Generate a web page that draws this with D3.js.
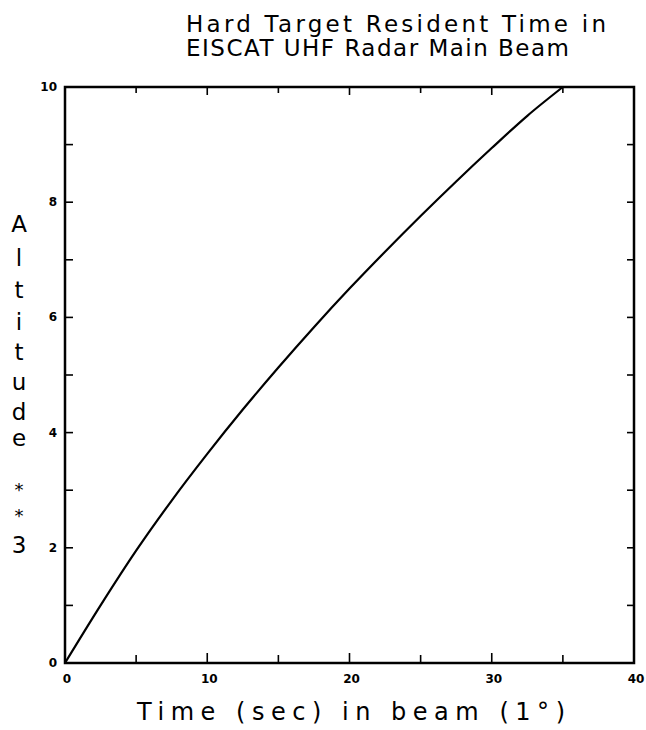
<!DOCTYPE html>
<html>
<head>
<meta charset="utf-8">
<script src="https://cdn.jsdelivr.net/npm/d3@7"></script>
<style>
  body { margin: 0; background: #fff; }
  svg { display: block; }
  text { fill: #000; }
</style>
</head>
<body>
<div id="chart-area"></div>
<script>
// data
var times     = [0, 2.5, 5, 7.5, 10, 12.5, 15, 17.5, 20, 22.5, 25, 27.5, 30, 32.5, 35];
var altitudes = [0, 1.0, 1.95, 2.82, 3.63, 4.40, 5.13, 5.83, 6.50, 7.14, 7.76, 8.36, 8.94, 9.50, 10.0];

var xTicksMajor = [0, 10, 20, 30, 40];
var xTicksMinor = [5, 15, 25, 35];
var yTicksMajor = [0, 2, 4, 6, 8, 10];
var yTicksMinor = [1, 3, 5, 7, 9];

var titleLines = ["Hard Target Resident Time in", "EISCAT UHF Radar Main Beam"];
var yLabelChars = ["A", "l", "t", "i", "t", "u", "d", "e", "*", "*", "3"];
var xLabel = "Time (sec) in beam (1\u00B0)";

var W = 646, H = 730;
// plot box (pixels)
var box = {left: 65, right: 634, top: 87, bottom: 663};

var svg = d3.select('#chart-area')
    .append('svg')
        .attr('width', W)
        .attr('height', H);

var x = d3.scaleLinear().domain([0, 40]).range([box.left, box.right]);
var y = d3.scaleLinear().domain([0, 10]).range([box.bottom, box.top]);

// frame
svg.append('rect')
    .attr('x', box.left)
    .attr('y', box.top)
    .attr('width', box.right - box.left)
    .attr('height', box.bottom - box.top)
    .attr('fill', 'none')
    .attr('stroke', '#000')
    .attr('stroke-width', 2.5);

// ticks pointing inward on all four sides
function inwardTicks(vals, len) {
    svg.selectAll(null).data(vals).enter().append('line')
        .attr('x1', d => x(d)).attr('x2', d => x(d))
        .attr('y1', box.bottom).attr('y2', box.bottom - len)
        .attr('stroke', '#000').attr('stroke-width', 1.6);
    svg.selectAll(null).data(vals).enter().append('line')
        .attr('x1', d => x(d)).attr('x2', d => x(d))
        .attr('y1', box.top).attr('y2', box.top + len - 2)
        .attr('stroke', '#000').attr('stroke-width', 1.6);
}
inwardTicks(xTicksMajor.slice(1, -1), 10);
inwardTicks(xTicksMinor, 8);

var yAll = yTicksMajor.slice(1, -1).concat(yTicksMinor);
svg.selectAll(null).data(yAll).enter().append('line')
    .attr('x1', box.left).attr('x2', box.left + 8)
    .attr('y1', d => y(d)).attr('y2', d => y(d))
    .attr('stroke', '#000').attr('stroke-width', 1.6);
svg.selectAll(null).data(yAll).enter().append('line')
    .attr('x1', box.right).attr('x2', box.right - 7)
    .attr('y1', d => y(d)).attr('y2', d => y(d))
    .attr('stroke', '#000').attr('stroke-width', 1.6);

// tick labels
svg.selectAll(null).data(xTicksMajor).enter().append('text')
    .attr('x', d => x(d) + 2)
    .attr('y', box.bottom + 20)
    .attr('text-anchor', 'middle')
    .attr('font-family', 'DejaVu Sans')
    .attr('font-weight', 'bold')
    .attr('font-size', '12px')
    .text(d => d);

svg.selectAll(null).data(yTicksMajor).enter().append('text')
    .attr('x', box.left - 8)
    .attr('y', d => y(d) + 4)
    .attr('text-anchor', 'end')
    .attr('font-family', 'DejaVu Sans')
    .attr('font-weight', 'bold')
    .attr('font-size', '12px')
    .text(d => d);

// curve
var pts = times.map((t, i) => [t, altitudes[i]]);
var line = d3.line()
    .x(d => x(d[0]))
    .y(d => y(d[1]))
    .curve(d3.curveMonotoneX);

svg.append('path')
    .datum(pts)
    .attr('d', line)
    .attr('fill', 'none')
    .attr('stroke', '#000')
    .attr('stroke-width', 2.2);

// title
svg.selectAll(null).data(titleLines).enter().append('text')
    .attr('x', 186)
    .attr('y', (d, i) => 32 + i * 24)
    .attr('font-family', 'DejaVu Sans')
    .attr('font-size', '23px')
    .attr('textLength', (d, i) => i == 0 ? 420 : 383)
    .attr('lengthAdjust', 'spacing')
    .text(d => d);

// vertical y label, one char per row
var yLabelBase = [232, 266, 298, 330, 360, 390, 420, 446, 496, 522, 553];
svg.selectAll(null).data(yLabelChars).enter().append('text')
    .attr('x', 19)
    .attr('y', (d, i) => yLabelBase[i])
    .attr('text-anchor', 'middle')
    .attr('font-family', 'DejaVu Sans')
    .attr('font-size', (d) => d == '*' ? '18px' : '23px')
    .text(d => d);

// x label
svg.append('text')
    .attr('x', 137)
    .attr('y', 720)
    .attr('font-family', 'DejaVu Sans')
    .attr('font-size', '24px')
    .attr('textLength', 428)
    .attr('lengthAdjust', 'spacing')
    .text(xLabel);
</script>
</body>
</html>
